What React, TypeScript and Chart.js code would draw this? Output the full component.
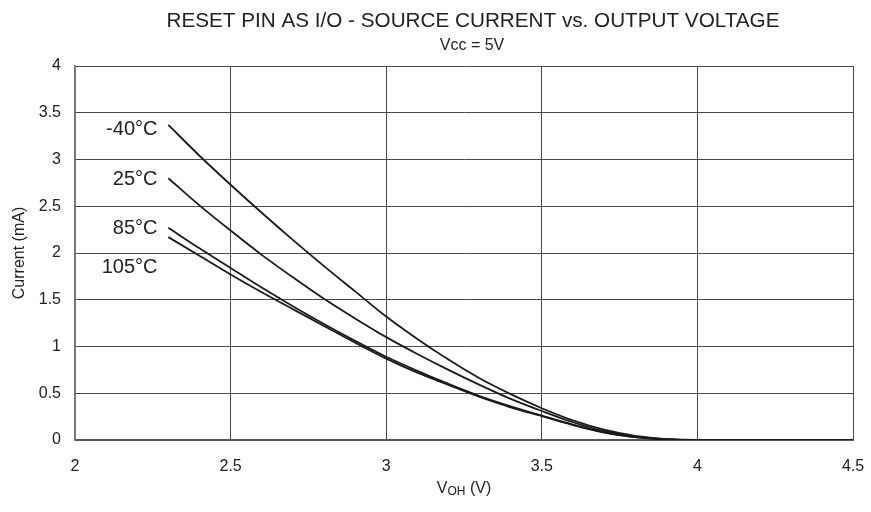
import React, { useEffect, useRef } from "react";
import { Chart, registerables } from "chart.js";

Chart.register(...registerables);

const voltages = [2.3, 2.4, 2.5, 2.6, 2.7, 2.8, 2.9, 3.0, 3.1, 3.2, 3.3, 3.4, 3.5, 3.6, 3.7, 3.8, 3.9, 4.0, 4.5];
const currentM40 = [3.37, 3.04, 2.73, 2.43, 2.14, 1.86, 1.59, 1.32, 1.08, 0.86, 0.66, 0.49, 0.34, 0.21, 0.11, 0.045, 0.01, 0, 0];
const current25 = [2.80, 2.51, 2.24, 1.98, 1.74, 1.51, 1.30, 1.10, 0.92, 0.75, 0.59, 0.44, 0.31, 0.19, 0.095, 0.035, 0.008, 0, 0];
const current85 = [2.27, 2.05, 1.84, 1.63, 1.43, 1.24, 1.06, 0.89, 0.74, 0.60, 0.47, 0.36, 0.26, 0.165, 0.085, 0.03, 0.006, 0, 0];
const current105 = [2.17, 1.97, 1.77, 1.58, 1.40, 1.22, 1.04, 0.87, 0.72, 0.59, 0.46, 0.35, 0.255, 0.16, 0.08, 0.03, 0.006, 0, 0];
const seriesNames = ["-40°C", "25°C", "85°C", "105°C"];
const seriesValues = [currentM40, current25, current85, current105];
// annotation anchors in data coordinates (voltage, current) for the curve labels
const labelVoltage = 2.265;
const labelCurrents = [3.32, 2.79, 2.26, 1.84];

const titleText = "RESET PIN AS I/O - SOURCE CURRENT vs. OUTPUT VOLTAGE";
const subtitleText = "Vcc = 5V";
const yTitle = "Current (mA)";

const FONT = "'Liberation Sans', Arial, Helvetica, sans-serif";

export default function App() {
  const ref = useRef<HTMLCanvasElement | null>(null);

  useEffect(() => {
    document.body.style.margin = "0";
    const canvas = ref.current;
    if (!canvas) return;

    const textPlugin = {
      id: "textPlugin",
      afterDraw(chart: any) {
        const ctx = chart.ctx;
        const xs = chart.scales.x;
        const ys = chart.scales.y;
        ctx.save();
        ctx.fillStyle = "#222";
        ctx.textAlign = "center";
        ctx.textBaseline = "middle";
        ctx.font = `20.7px ${FONT}`;
        ctx.fillText(titleText, 473, 21);
        ctx.font = `16px ${FONT}`;
        ctx.fillText(subtitleText, 472, 46);
        ctx.font = `20px ${FONT}`;
        ctx.textAlign = "right";
        seriesNames.forEach((n, i) => {
          ctx.fillText(n, xs.getPixelForValue(labelVoltage), ys.getPixelForValue(labelCurrents[i]));
        });
        const cx = (chart.chartArea.left + chart.chartArea.right) / 2;
        const ty = 487;
        ctx.textAlign = "left";
        ctx.textBaseline = "alphabetic";
        const mainFont = `16px ${FONT}`;
        const subFont = `12px ${FONT}`;
        ctx.font = mainFont;
        const w1 = ctx.measureText("V").width;
        const w3 = ctx.measureText(" (V)").width;
        ctx.font = subFont;
        const w2 = ctx.measureText("OH").width;
        const x0 = cx - (w1 + w2 + w3) / 2;
        ctx.font = mainFont;
        ctx.fillText("V", x0, ty + 6);
        ctx.font = subFont;
        ctx.fillText("OH", x0 + w1, ty + 8);
        ctx.font = mainFont;
        ctx.fillText(" (V)", x0 + w1 + w2, ty + 6);
        ctx.restore();
      },
    };

    const fmt = (v: any) => String(Number(v));

    const chart = new Chart(canvas, {
      type: "line",
      data: {
        datasets: seriesValues.map((vals, i) => ({
          label: seriesNames[i],
          data: voltages.map((v, j) => ({ x: v, y: vals[j] })),
          borderColor: "#1a1a1a",
          borderWidth: 1.8,
          pointRadius: 0,
          cubicInterpolationMode: "monotone" as const,
          fill: false,
        })),
      },
      options: {
        animation: false,
        responsive: false,
        maintainAspectRatio: false,
        layout: { padding: { top: 66, right: 18, left: 0, bottom: 0 } },
        plugins: {
          legend: { display: false },
          tooltip: { enabled: false },
          title: { display: false },
        },
        scales: {
          x: {
            type: "linear",
            min: 2,
            max: 4.5,
            ticks: {
              stepSize: 0.5,
              padding: 17,
              color: "#222",
              font: { family: FONT, size: 16 },
              maxRotation: 0,
              callback: fmt,
            },
            grid: { color: "#4a4a4a", lineWidth: 1, drawTicks: false },
            border: { color: "#555", width: 2 },
            afterFit: (s: any) => {
              s.height = 72;
              s.paddingRight = 0;
              s.paddingLeft = 0;
            },
          },
          y: {
            min: 0,
            max: 4,
            ticks: {
              stepSize: 0.5,
              padding: 14,
              color: "#222",
              font: { family: FONT, size: 16 },
              callback: fmt,
            },
            grid: { color: "#4a4a4a", lineWidth: 1, drawTicks: false },
            border: { color: "#777", width: 2 },
            title: {
              display: true,
              text: yTitle,
              color: "#222",
              font: { family: FONT, size: 16 },
              padding: { top: 10, bottom: 0 },
            },
            afterFit: (s: any) => {
              s.width = 75;
              s.paddingTop = 0;
              s.paddingBottom = 0;
            },
          },
        },
      },
      plugins: [textPlugin],
    });

    return () => chart.destroy();
  }, []);

  return (
    <div style={{ width: 871, height: 512, position: "relative", background: "#fff" }}>
      <canvas ref={ref} width={871} height={512} style={{ display: "block" }} />
    </div>
  );
}
